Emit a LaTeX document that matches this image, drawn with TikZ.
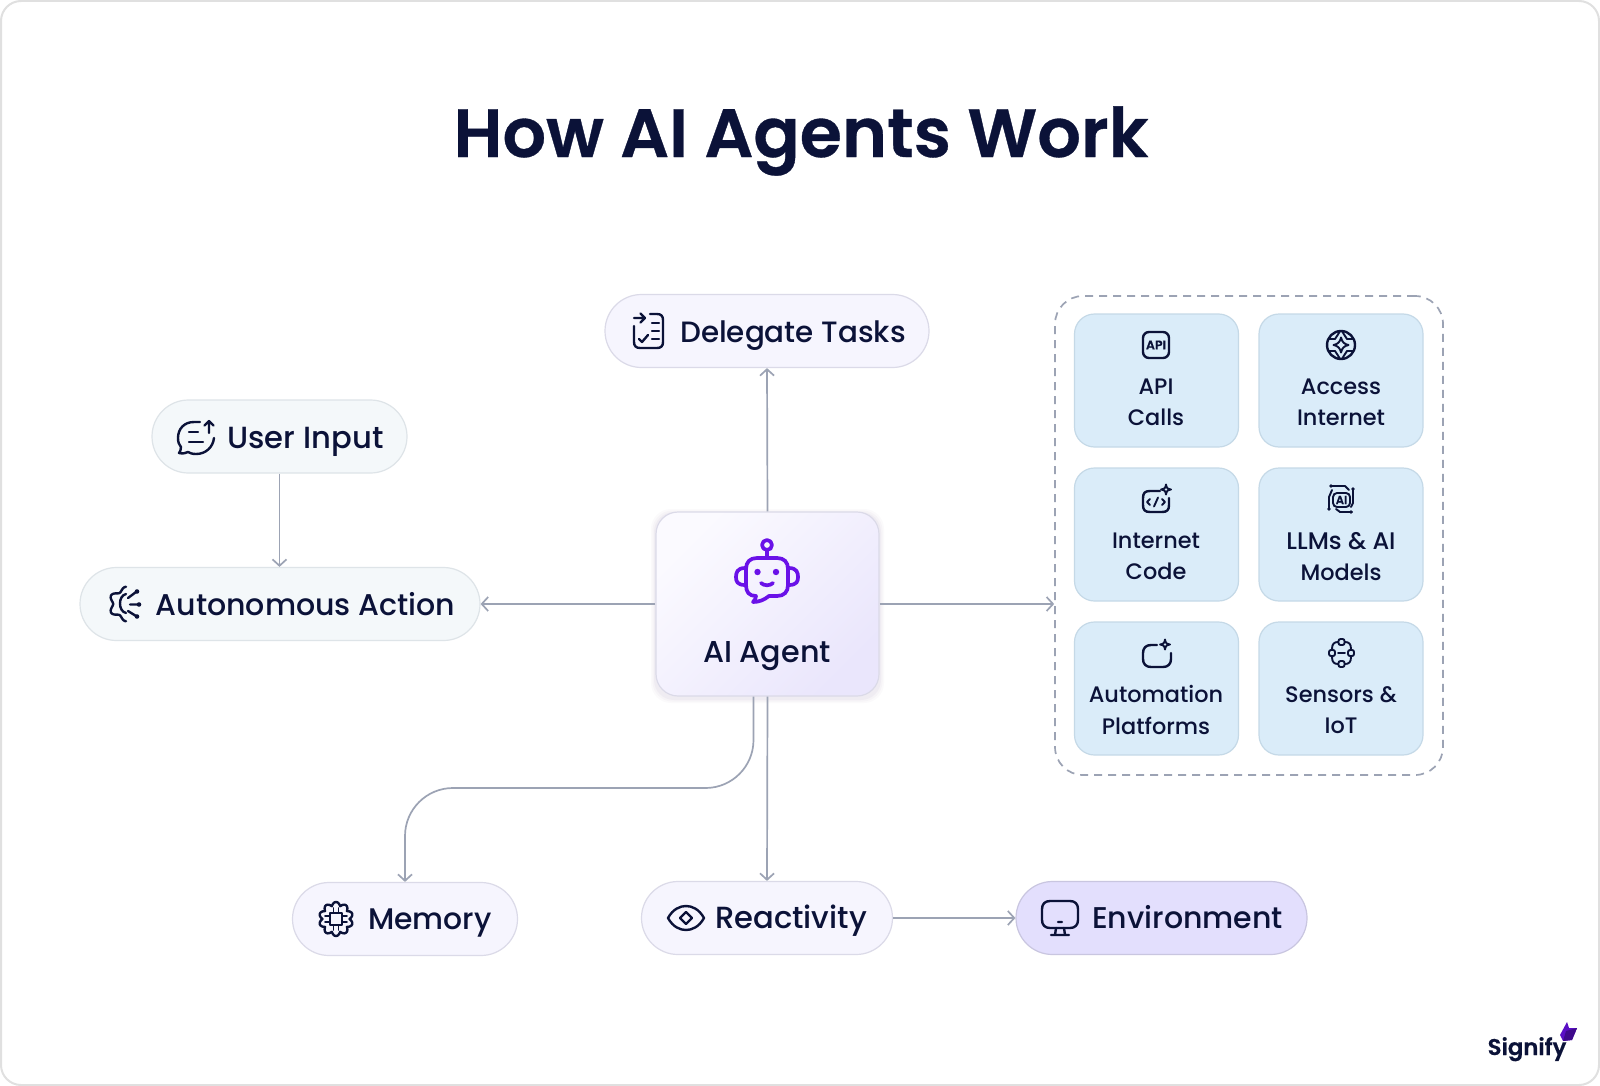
\documentclass[tikz,border=0pt]{standalone}
\usepackage{fontspec}
\setmainfont{Poppins}
\newfontfamily\titlefont[FakeBold=0.5]{Poppins SemiBold}
\newfontfamily\labfont{Poppins Medium}
\usetikzlibrary{arrows.meta,calc}
\definecolor{navy}{HTML}{0B1238}
\definecolor{linec}{HTML}{9CA3B4}
\definecolor{robotc}{HTML}{6A11E8}
\definecolor{pillg}{HTML}{F4F8FA}
\definecolor{pillgb}{HTML}{DEE4E8}
\definecolor{pillv}{HTML}{F6F5FE}
\definecolor{pillvb}{HTML}{DBDAE8}
\definecolor{envf}{HTML}{E3DFFD}
\definecolor{envb}{HTML}{C9C6E0}
\definecolor{cardf}{HTML}{DAECF9}
\definecolor{cardb}{HTML}{C5D9E7}
\definecolor{aia}{HTML}{FBFAFF}
\definecolor{aib}{HTML}{EAE6FC}
\tikzset{
  x=0.5pt,y=-0.5pt,
  pill/.style={rectangle,rounded corners=18.25pt,inner sep=0pt,line width=.6pt,minimum height=36.5pt},
  greenpill/.style={pill,fill=pillg,draw=pillgb},
  violetpill/.style={pill,fill=pillv,draw=pillvb},
  envpill/.style={pill,fill=envf,draw=envb},
  card/.style={rectangle,rounded corners=10pt,inner sep=0pt,line width=.6pt,fill=cardf,draw=cardb,minimum width=82pt,minimum height=66.5pt},
  lab/.style={anchor=base,inner sep=0pt,text=navy,font=\labfont\fontsize{15.3}{18}\selectfont},
  cardlab/.style={align=center,inner sep=0pt,text=navy,font=\labfont\fontsize{11.2}{15.8}\selectfont},
  conn/.style={draw=linec,line width=.85pt,-{Straight Barb[length=3.2pt,width=7pt]}},
  ico/.style={draw=navy,line width=1.2pt,line cap=round,line join=round},
  icos/.style={draw=navy,line width=.95pt,line cap=round,line join=round},
  robo/.style={draw=robotc,line width=1.85pt,line cap=round,line join=round},
}
\begin{document}
\begin{tikzpicture}
\useasboundingbox (0,0) rectangle (1600,1086);
\draw[fill=white,draw=black!12,line width=1pt,rounded corners=10pt] (1,1) rectangle (1599,1085);
\node[anchor=base,inner sep=0pt,text=navy,font=\titlefont\fontsize{34.2}{40}\selectfont] (title) at (801,157) {How AI Agents Work};
% dashed group
\node[rectangle,draw=linec,line width=.85pt,dash pattern=on 4pt off 3pt,rounded corners=14pt,minimum width=194pt,minimum height=239.5pt,inner sep=0pt] (group) at (1249,535.5) {};
% AI agent
\foreach \k/\o in {5/.03,3.5/.04,2/.05}{
  \fill[robotc!40!black!60,opacity=\o,rounded corners=10pt] (656-\k,512+2-\k) rectangle (879+\k,696+2+\k);
}
\node[rectangle,rounded corners=11pt,inner sep=0pt,minimum width=111.5pt,minimum height=92pt,draw=pillvb,line width=.6pt,left color=aia,right color=aib,shading angle=45] (ai) at (767.5,604) {};
% pills
\node[violetpill,minimum width=162pt] (deleg) at (767,331) {};
\node[greenpill,minimum width=127.5pt] (user) at (279.5,436.5) {};
\node[greenpill,minimum width=200pt] (auto) at (280,604) {};
\node[violetpill,minimum width=112.5pt] (mem) at (405,919) {};
\node[violetpill,minimum width=125.5pt] (react) at (767,918) {};
\node[envpill,minimum width=145.5pt] (env) at (1161.5,918) {};
% cards
\node[card] (c1) at (1156.5,380.5) {};
\node[card] (c2) at (1341,380.5) {};
\node[card] (c3) at (1156.5,534.5) {};
\node[card] (c4) at (1341,534.5) {};
\node[card] (c5) at (1156.5,688.5) {};
\node[card] (c6) at (1341,688.5) {};
% connectors
\draw[conn] (ai.north) -- (deleg.south);
\draw[conn] (ai.west) -- (auto.east);
\draw[conn] (ai.east) -- (ai.east -| group.west);
\draw[conn] (user.south) -- (auto.north -| user.south);
\draw[conn] (ai.south) -- (react.north);
\draw[conn] (react.east) -- (env.west);
\coordinate (memstart) at ($(ai.south)+(-14,0)$);
\draw[conn,rounded corners=24pt] (memstart) -- (memstart |- 0,788) -- (mem.north |- 0,788) -- (mem.north);
% labels
\node[lab,font=\labfont\fontsize{14.7}{18}\selectfont] (l1) at (793,342) {Delegate Tasks};
\node[lab] (l2) at (305.5,448) {User Input};
\node[lab,font=\labfont\fontsize{15}{18}\selectfont] (l3) at (305.5,615) {Autonomous Action};
\node[lab,font=\labfont\fontsize{15.1}{18}\selectfont] (l4) at (767,662) {AI Agent};
\node[lab,font=\labfont\fontsize{14.9}{18}\selectfont] (l5) at (430,929) {Memory};
\node[lab] (l6) at (791,928) {Reactivity};
\node[lab,font=\labfont\fontsize{15}{18}\selectfont] (l7) at (1187.5,928) {Environment};
\node[cardlab] (t1) at (1156,402.5) {API\hspace{1.5pt}\\Calls};
\node[cardlab] (t2) at (1341,402.5) {Access\\Internet};
\node[cardlab] (t3) at (1156,556.5) {Internet\\Code};
\node[cardlab] (t4) at (1341,556.5) {{\fontsize{12}{15.8}\selectfont LLMs \& AI}\hspace{2pt}\\Models};
\node[cardlab] (t5) at (1156,710) {Automation\\Platforms};
\node[cardlab] (t6) at (1341,710) {Sensors \&\\IoT};
% robot icon
\draw[robo] (767,545) circle [radius=5];
\draw[robo] (767,550) -- (767,558);
\draw[robo] (757,558) -- (777,558) .. controls (784,558) and (788,562) .. (788,569) -- (788,585) .. controls (788,592) and (784,596) .. (777,596) -- (769,596) .. controls (764,600) and (759,602) .. (753,602) .. controls (755,600) and (756,598) .. (756,596) .. controls (749,596) and (746,592) .. (746,585) -- (746,569) .. controls (746,562) and (750,558) .. (757,558) -- cycle;
\draw[robo] (745,568) .. controls (737,568) and (736,573) .. (736,577) .. controls (736,581) and (737,585) .. (745,585);
\draw[robo] (789,568) .. controls (797,568) and (798,573) .. (798,577) .. controls (798,581) and (797,585) .. (789,585);
\fill[robotc] (757.5,572) circle [radius=3.2] (776,572) circle [radius=3.2];
\draw[robo] (761,583) .. controls (764,586) and (770,586) .. (773,583);
% delegate icon
\draw[ico] (634,318) -- (645,318) (640.5,313.5) -- (645,318) -- (640.5,322.5);
\draw[ico] (650,314) -- (657,314) .. controls (661,314) and (663,316) .. (663,320) -- (663,342) .. controls (663,346) and (661,348) .. (657,348) -- (640,348) .. controls (636,348) and (634,346) .. (634,342) -- (634,326);
\draw[ico] (652,323) -- (659,323) (652,331) -- (659,331) (652,339) -- (659,339);
\draw[ico] (639,339) -- (642,342) -- (648,335);
% user input icon
\draw[ico] (200,422) -- (194,422) .. controls (184,422) and (178,429) .. (178,438) .. controls (178,442) and (179,445) .. (181,447) .. controls (181,450) and (180,452) .. (179,453) .. controls (183,454) and (186,453) .. (188,452) .. controls (190,453) and (192,454) .. (196,454) .. controls (206,454) and (213,447) .. (214,438);
\draw[ico] (189,432) -- (198,432) (189,442) -- (203,442);
\draw[ico] (209,433) -- (209,421) (204.5,425.5) -- (209,421) -- (213.5,425.5);
% autonomous icon
\draw[ico] plot[domain=75:255,samples=60,smooth] ({126+(15+2.2*cos(6*(\x-75)))*cos(\x+15)},{604-(15+2.2*cos(6*(\x-75)))*sin(\x+15)});
\draw[ico] (126,594) .. controls (122,595) and (120,599) .. (120,603.5) .. controls (120,608) and (122,612) .. (126,613);
\draw[ico] (128,598) -- (136,592) (130,604.5) -- (138,604.5) (128,611) -- (136,616);
\fill[navy] (137,591.5) circle [radius=2.3] (139,604.5) circle [radius=2.3] (137,616.5) circle [radius=2.3];
% memory icon
\draw[ico] plot[domain=0:360,samples=121,smooth cycle] ({336+(13.5+3.5*abs(cos(5*\x+90)))*cos(\x)},{919+(13.5+3.5*abs(cos(5*\x+90)))*sin(\x)});
\draw[ico] (330,913) rectangle (342,925);
\draw[icos] (333.5,913) -- (333.5,908) (338.5,913) -- (338.5,908) (333.5,925) -- (333.5,930) (338.5,925) -- (338.5,930) (330,916) -- (325,916) (330,922) -- (325,922) (342,916) -- (347,916) (342,922) -- (347,922);
% eye icon
\draw[ico] (668,918) .. controls (673,909) and (680,906) .. (686,906) .. controls (692,906) and (699,909) .. (704,918) .. controls (699,927) and (692,930) .. (686,930) .. controls (680,930) and (673,927) .. (668,918) -- cycle;
\draw[ico] (686,912) -- (692,918) -- (686,924) -- (680,918) -- cycle;
% monitor icon
\draw[ico] (1050,901) -- (1070,901) .. controls (1075,901) and (1078,904) .. (1078,909) -- (1078,920) .. controls (1078,925) and (1075,928) .. (1070,928) -- (1050,928) .. controls (1045,928) and (1042,925) .. (1042,920) -- (1042,909) .. controls (1042,904) and (1045,901) .. (1050,901) -- cycle;
\draw[ico] (1058,922) -- (1062,922) (1056,928) -- (1055,935) (1064,928) -- (1065,935) (1051,935) -- (1069,935);
% api icon
\draw[ico,rounded corners=3pt] (1143,332) rectangle (1169,358);
\node[inner sep=0pt,text=navy,font=\titlefont\fontsize{6.3}{7}\selectfont] (apiglyph) at (1156,345) {API};
% globe icon
\draw[ico] (1341,345) circle [radius=14];
\draw[icos] (1341,337.5) .. controls (1342,342) and (1344,344) .. (1348.5,345) .. controls (1344,346) and (1342,348) .. (1341,352.5) .. controls (1340,348) and (1338,346) .. (1333.5,345) .. controls (1338,344) and (1340,342) .. (1341,337.5) -- cycle;
\draw[icos] (1329,339) -- (1335,339) .. controls (1337,336) and (1339,333) .. (1340,331) (1353,339) -- (1347,339) .. controls (1345,336) and (1343,333) .. (1342,331) (1329,351) -- (1335,351) .. controls (1337,354) and (1339,357) .. (1340,359) (1353,351) -- (1347,351) .. controls (1345,354) and (1343,357) .. (1342,359);
% code icon
\draw[ico] (1160,491) -- (1150,491) .. controls (1145,491) and (1143,493) .. (1143,498) -- (1143,505) .. controls (1143,510) and (1145,512) .. (1150,512) -- (1162,512) .. controls (1167,512) and (1169,510) .. (1169,505) -- (1169,498);
\draw[icos] (1150,499) -- (1147,502) -- (1150,505) (1162,499) -- (1165,502) -- (1162,505) (1158,497.5) -- (1154,506.5);
\draw[icos] (1166,484.5) .. controls (1166.5,488) and (1167.5,489) .. (1171,489.5) .. controls (1167.5,490) and (1166.5,491) .. (1166,494.5) .. controls (1165.5,491) and (1164.5,490) .. (1161,489.5) .. controls (1164.5,489) and (1165.5,488) .. (1166,484.5) -- cycle;
% llm icon
\draw[icos,rounded corners=2pt] (1333,493) rectangle (1350,507);
\node[inner sep=0pt,text=navy,font=\titlefont\fontsize{5.8}{7}\selectfont] (aiglyph) at (1341.5,500) {AI};
\draw[icos] (1331,486) -- (1345,486) -- (1349,490) (1353,489) -- (1353,503) -- (1351,507) (1352,512) -- (1340,512) -- (1336,509) (1329,509) -- (1329,497) -- (1332,490);
\fill[navy] (1331,486) circle [radius=1.8] (1353,489) circle [radius=1.8] (1351,512) circle [radius=1.8] (1329,509) circle [radius=1.8];
% automation icon
\draw[ico] (1157,645) -- (1151,645) .. controls (1146,645) and (1143,648) .. (1143,653) -- (1143,659) .. controls (1143,664) and (1146,667) .. (1151,667) -- (1163,667) .. controls (1168,667) and (1171,664) .. (1171,659) -- (1171,653);
\draw[icos] (1165,639.5) .. controls (1165.5,643) and (1166.5,644) .. (1170,644.5) .. controls (1166.5,645) and (1165.5,646) .. (1165,649.5) .. controls (1164.5,646) and (1163.5,645) .. (1160,644.5) .. controls (1163.5,644) and (1164.5,643) .. (1165,639.5) -- cycle;
% sensors icon
\foreach \sx/\sy in {1341.5/642,1341.5/664,1332/653,1351/653}{
  \draw[icos,rounded corners=1pt] (\sx-3,\sy-3) rectangle (\sx+3,\sy+3);
}
\draw[icos] (1338,653) -- (1345,653);
\draw[icos] (1338,642) .. controls (1334,642) and (1332,644) .. (1332,649) (1345,642) .. controls (1349,642) and (1351,644) .. (1351,649) (1338,664) .. controls (1334,664) and (1332,662) .. (1332,657) (1345,664) .. controls (1349,664) and (1351,662) .. (1351,657);
% logo
\node[anchor=base,inner sep=0pt,text=navy,font=\titlefont\fontsize{11.4}{14}\selectfont] (logo) at (1527,1055) {Signify};
\fill[robotc!85!black] (1567,1022) -- (1569,1028) -- (1577,1028) -- (1572,1040) -- (1563,1041) -- (1560,1035) -- cycle;
\fill[robotc!60!black] (1577,1028) -- (1572,1040) -- (1563,1041) -- (1566,1031) -- cycle;
\end{tikzpicture}
\end{document}
